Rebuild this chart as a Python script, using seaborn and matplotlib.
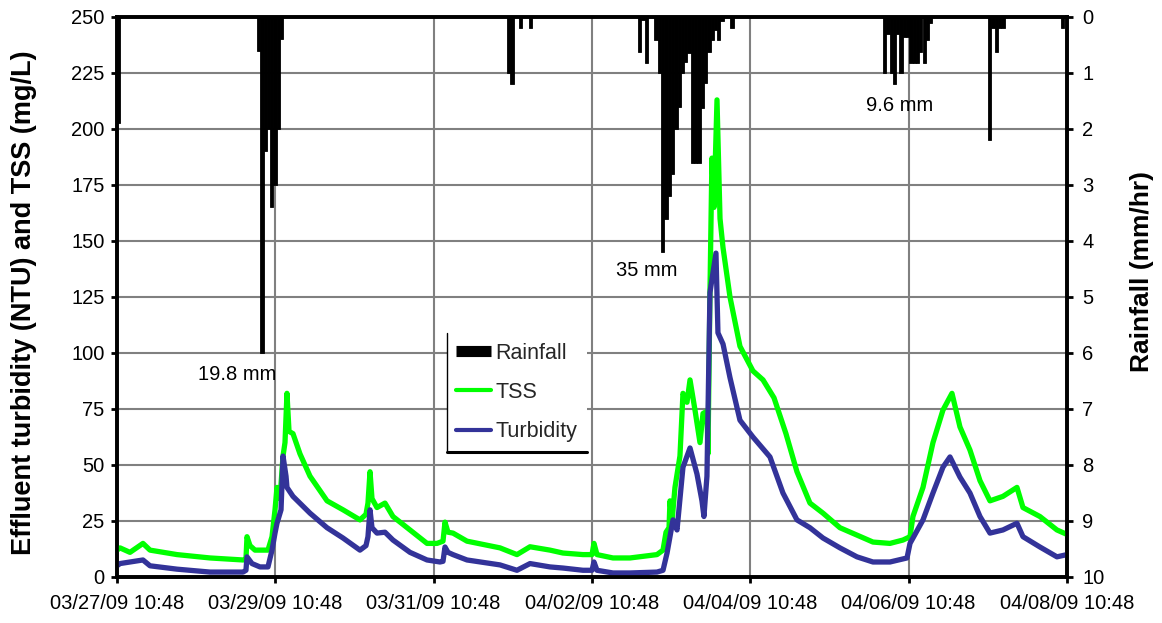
import numpy as np
import pandas as pd
import matplotlib
matplotlib.use("Agg")
import matplotlib.pyplot as plt
import seaborn as sns
from matplotlib.lines import Line2D

# ---------------- data ----------------
# time in days since 03/27/09 10:48
x_tick_days = [0, 2, 4, 6, 8, 10, 12]
x_tick_labels = ["03/27/09 10:48", "03/29/09 10:48", "03/31/09 10:48", "04/02/09 10:48",
                 "04/04/09 10:48", "04/06/09 10:48", "04/08/09 10:48"]

tss_day = [0.000, 0.038, 0.164, 0.328, 0.417, 0.758, 1.175, 1.592, 1.629, 1.642, 1.680, 1.743,
           1.907, 1.958, 1.996, 2.021, 2.059, 2.097, 2.122, 2.147, 2.173, 2.223, 2.311, 2.438,
           2.653, 2.855, 3.069, 3.145, 3.170, 3.196, 3.221, 3.284, 3.385, 3.486, 3.701, 3.916,
           4.042, 4.118, 4.143, 4.181, 4.244, 4.421, 4.838, 5.052, 5.217, 5.469, 5.633, 5.886,
           6.000, 6.025, 6.063, 6.265, 6.480, 6.821, 6.897, 6.935, 6.973, 6.985, 7.011, 7.048,
           7.111, 7.149, 7.200, 7.238, 7.301, 7.364, 7.402, 7.452, 7.465, 7.490, 7.515, 7.541,
           7.579, 7.617, 7.655, 7.743, 7.869, 8.033, 8.160, 8.299, 8.450, 8.589, 8.753, 8.918,
           9.132, 9.347, 9.549, 9.764, 9.928, 10.017, 10.054, 10.181, 10.307, 10.433, 10.547,
           10.648, 10.774, 10.901, 11.027, 11.191, 11.368, 11.444, 11.658, 11.873, 12.000]
tss_val = [12, 13, 11, 15, 12, 10, 8.5, 7.6, 8, 18, 14, 12,
           12, 18, 30, 40, 35, 54, 60, 82, 65, 64, 55, 45,
           34, 30, 25.5, 28, 33, 47, 35, 31, 33, 27, 21, 15,
           15, 16, 24.5, 20, 19.6, 16, 13, 10, 13.5, 12, 10.7, 10,
           10, 15, 10, 8.5, 8.5, 10, 12, 20, 22, 34, 25, 40,
           54, 82, 78, 88, 74.5, 60, 73, 74, 55, 127, 187, 165,
           213, 160, 147, 125, 103, 92, 88, 80, 64, 47, 33, 28.5,
           22, 18.7, 15.6, 15, 16.5, 18, 27, 40, 60, 74.5, 82,
           67, 56.7, 43, 34, 36, 40, 31, 27, 21, 19]

turb_day = [0.000, 0.038, 0.328, 0.417, 0.758, 1.175, 1.592, 1.629, 1.642, 1.705, 1.806, 1.907,
            1.958, 1.996, 2.021, 2.072, 2.097, 2.135, 2.147, 2.223, 2.438, 2.653, 2.855, 3.069,
            3.145, 3.170, 3.196, 3.221, 3.284, 3.385, 3.486, 3.701, 3.916, 4.080, 4.118, 4.143,
            4.181, 4.244, 4.421, 4.838, 5.052, 5.217, 5.469, 5.633, 5.886, 6.000, 6.025, 6.063,
            6.265, 6.480, 6.821, 6.897, 6.948, 7.023, 7.074, 7.149, 7.238, 7.326, 7.389, 7.414,
            7.452, 7.490, 7.566, 7.591, 7.655, 7.743, 7.869, 8.033, 8.248, 8.412, 8.589, 8.753,
            8.918, 9.132, 9.347, 9.549, 9.764, 9.979, 10.017, 10.181, 10.307, 10.433, 10.522,
            10.648, 10.774, 10.901, 11.027, 11.191, 11.368, 11.444, 11.658, 11.873, 12.000]
turb_val = [5, 6, 7.6, 5, 3.5, 2.2, 2.2, 3, 9, 6, 4.5, 4.5,
            12, 19.6, 24, 30, 54, 45, 40, 36, 28.5, 22, 17.4, 12,
            14, 18, 30, 22, 19.6, 20, 16.5, 11, 7.6, 6.7, 7, 13.4,
            11, 10, 7.6, 5.4, 3, 6, 4.5, 4, 3, 3, 6.7, 3,
            1.8, 1.8, 2.2, 3, 10.7, 25.5, 21, 49, 57.6, 46, 34, 27,
            45, 127, 144.6, 109, 104, 89, 70, 62.5, 53.6, 37.5, 25.5, 22,
            17.4, 13, 9, 6.7, 6.7, 8.5, 15, 25.5, 37.5, 49, 53.6,
            44.6, 37.5, 27, 19.6, 21, 24, 18, 13.4, 9, 10]

# hourly rainfall (start of each hour, days since start) and intensity (mm/hr)
rain_day = [0.000,
            1.768, 1.810, 1.851, 1.893, 1.935, 1.976, 2.018, 2.060,
            4.926, 4.968, 5.078, 5.204,
            6.581, 6.623, 6.664, 6.789, 6.831, 6.873, 6.914, 6.956, 6.998, 7.039, 7.081,
            7.123, 7.164, 7.206, 7.248, 7.289, 7.331, 7.373, 7.414, 7.456, 7.498, 7.539,
            7.581, 7.623, 7.748,
            9.675, 9.717, 9.758, 9.800, 9.842, 9.883, 9.925, 9.967, 10.008, 10.050, 10.092,
            10.133, 10.175, 10.217, 10.258,
            11.002, 11.044, 11.085, 11.127, 11.169,
            11.924]
rain_rate = [1.9,
             0.6, 6.0, 2.4, 2.0, 3.4, 3.0, 2.0, 0.4,
             1.0, 1.2, 0.2, 0.2,
             0.62, 0.05, 0.82, 0.41, 1.0, 4.2, 3.6, 3.2, 2.8, 2.0, 1.6,
             1.0, 0.8, 0.65, 2.6, 2.6, 2.6, 1.63, 1.18, 0.62, 0.41, 0.23,
             0.41, 0.07, 0.2,
             1.0, 0.3, 1.0, 1.2, 0.3, 1.0, 0.35, 0.35, 0.82, 0.82, 0.82,
             0.62, 0.82, 0.41, 0.1,
             2.2, 0.2, 0.62, 0.2, 0.2,
             0.2]

event_labels = ["19.8 mm", "35 mm", "9.6 mm"]
event_x = [1.516, 6.69, 9.89]
event_y = [90.6, 137, 210.7]

# ---------------- style ----------------
sns.set_theme(style="white")
plt.rcParams["font.family"] = ["Liberation Sans", "DejaVu Sans"]

TSS_C = "#00FF00"
TURB_C = "#333399"
GRID_C = "#808080"

fig = plt.figure(figsize=(11.62, 6.23), dpi=100)
fig.patch.set_facecolor("white")
ax = fig.add_axes([117 / 1162, 1 - 577 / 623, 950 / 1162, 560 / 623])
ax2 = ax.twinx()

df_tss = pd.DataFrame({"day": tss_day, "val": tss_val})
df_turb = pd.DataFrame({"day": turb_day, "val": turb_val})
sns.lineplot(data=df_tss, x="day", y="val", ax=ax, color=TSS_C, lw=3.8, estimator=None, zorder=3)
sns.lineplot(data=df_turb, x="day", y="val", ax=ax, color=TURB_C, lw=3.8, estimator=None, zorder=4)

# rainfall bars hanging from the top (inverted secondary axis)
ax2.bar(rain_day, rain_rate, width=1 / 24, align="edge", color="black",
        edgecolor="black", linewidth=0.6)
ax2.set_ylim(10, 0)
ax2.set_yticks(range(0, 11))
for s in ax2.spines.values():
    s.set_color("black")
    s.set_linewidth(2.6)

ax.set_xlim(0, 12)
ax.set_ylim(0, 250)
ax.set_xticks(x_tick_days)
ax.set_xticklabels(x_tick_labels)
ax.set_yticks(range(0, 251, 25))
ax.grid(True, color=GRID_C, linewidth=1.5)
ax2.grid(False)

for s in ax.spines.values():
    s.set_visible(True)
    s.set_color("black")
    s.set_linewidth(2.6)

ax.tick_params(axis="x", bottom=True, direction="out", length=4, width=2, pad=8,
               labelsize=14.5, colors="black")
ax.tick_params(axis="y", left=True, direction="out", length=4, width=2, pad=5,
               labelsize=14.5, colors="black")
ax2.tick_params(axis="y", right=True, direction="out", length=4, width=2, pad=7,
                labelsize=14.5, colors="black")

ax.set_xlabel("")
ax.set_ylabel("Effluent turbidity (NTU) and TSS (mg/L)", fontsize=19.5, fontweight="bold",
              color="black")
ax.yaxis.set_label_coords(-0.084, 0.49)
ax2.set_ylabel("Rainfall (mm/hr)", fontsize=19, fontweight="bold", color="black")
ax2.yaxis.set_label_coords(1.066, 0.545)

for t, xx, yy in zip(event_labels, event_x, event_y):
    ax.text(xx, yy, t, ha="center", va="center", fontsize=14.5, color="black", zorder=6)

handles = [Line2D([], [], color="black", lw=8, solid_capstyle="butt"),
           Line2D([], [], color=TSS_C, lw=3),
           Line2D([], [], color=TURB_C, lw=3)]
leg = ax2.legend(handles, ["Rainfall", "TSS", "Turbidity"], loc="upper left",
                 bbox_to_anchor=(0.347, 0.436), frameon=True, fancybox=False,
                 edgecolor="none", facecolor="white", framealpha=1, fontsize=15.5,
                 handlelength=1.6, handletextpad=0.2, labelspacing=0.85, borderpad=0.45,
                 borderaxespad=0)
leg.set_zorder(10)

# Excel-like legend border: thin left edge, heavier bottom edge
fig.canvas.draw()
bb = leg.get_window_extent().transformed(fig.transFigure.inverted())
fig.add_artist(Line2D([bb.x0, bb.x0], [bb.y0, bb.y1], color="black", lw=1.0,
                      transform=fig.transFigure, zorder=20))
fig.add_artist(Line2D([bb.x0, bb.x1], [bb.y0, bb.y0], color="black", lw=2.2,
                      transform=fig.transFigure, zorder=20))

fig.savefig("out.png", dpi=100, facecolor="white")
